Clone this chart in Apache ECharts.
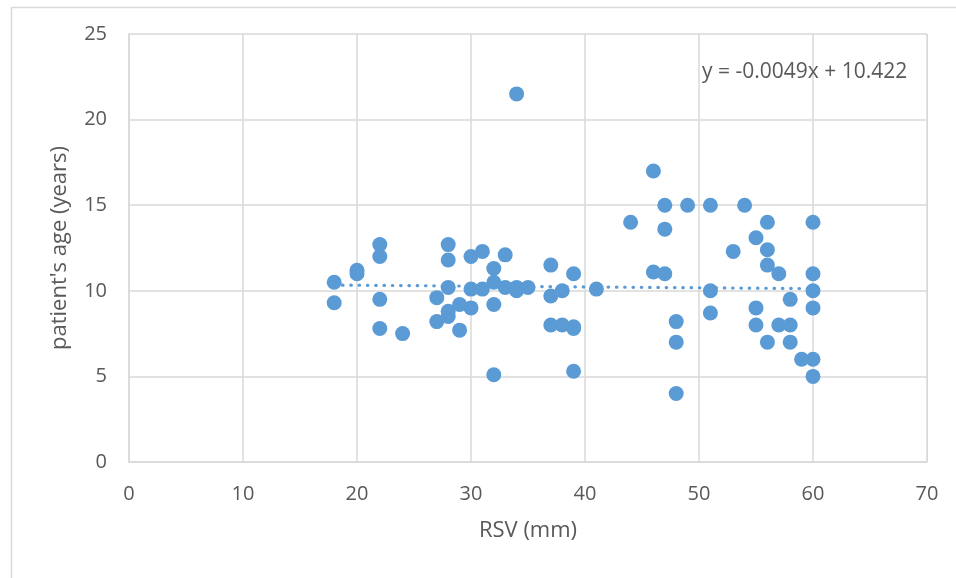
<!DOCTYPE html>
<html>
<head>
<meta charset="utf-8">
<script src="https://cdn.jsdelivr.net/npm/echarts@6/dist/echarts.min.js"></script>
<style>
html,body{margin:0;padding:0;background:#fff;}
#chart{width:956px;height:578px;}
</style>
</head>
<body>
<div id="chart"></div>
<script>
// RSV (mm) values
const rsv = [18,18,20,20,22,22,22,22,24,
  27,27,28,28,28,28,28,29,29,
  30,30,30,31,31,32,32,32,32,
  33,33,34,34,34,35,37,37,37,
  38,38,39,39,39,39,41,44,46,46,
  47,47,47,48,48,48,49,51,51,51,
  53,54,55,55,55,56,56,56,56,57,57,
  58,58,58,59,60,60,60,60,60,60];
// patient's age (years)
const age = [10.5,9.3,11.2,11.0,12.7,12.0,9.5,7.8,7.5,
  9.6,8.2,12.7,11.8,10.2,8.8,8.5,9.2,7.7,
  12.0,10.1,9.0,12.3,10.1,11.3,10.5,9.2,5.1,
  12.1,10.2,21.5,10.0,10.2,10.2,11.5,9.7,8.0,
  10.0,8.0,11.0,7.9,7.8,5.3,10.1,14.0,17.0,11.1,
  15.0,13.6,11.0,8.2,7.0,4.0,15.0,15.0,10.0,8.7,
  12.3,15.0,13.1,9.0,8.0,14.0,12.4,11.5,7.0,11.0,8.0,
  9.5,8.0,7.0,6.0,14.0,11.0,10.0,9.0,6.0,5.0];
// trendline (from the chart's equation)
const trendSlope = -0.0049;
const trendIntercept = 10.422;
const trendRange = [18, 60];
const equationLabel = 'y = -0.0049x + 10.422';
const xTicks = [0,10,20,30,40,50,60,70];
const yTicks = [0,5,10,15,20,25];

const points = rsv.map((x, i) => [x, age[i]]);
const trend = trendRange.map(x => [x, trendSlope * x + trendIntercept]);

const FONT = '"Open Sans", sans-serif';
const TXT = '#595959';
const GRID = '#D9D9D9';

const chart = echarts.init(document.getElementById('chart'));
chart.setOption({
  animation: false,
  backgroundColor: '#fff',
  textStyle: { fontFamily: FONT },
  grid: { left: 129, right: 29, top: 34, bottom: 116 },
  xAxis: {
    type: 'value', min: xTicks[0], max: xTicks[xTicks.length-1], interval: 10,
    name: 'RSV (mm)', nameLocation: 'middle', nameGap: 58,
    nameTextStyle: { color: TXT, fontSize: 22, fontFamily: FONT },
    axisLine: { show: true, lineStyle: { color: GRID, width: 1.5 } },
    axisTick: { show: false },
    axisLabel: { color: TXT, fontSize: 20, margin: 22, fontFamily: FONT },
    splitLine: { show: true, lineStyle: { color: GRID, width: 1.5 } }
  },
  yAxis: {
    type: 'value', min: yTicks[0], max: yTicks[yTicks.length-1], interval: 5,
    name: "patient's age (years)", nameLocation: 'middle', nameGap: 58, nameRotate: 90,
    nameTextStyle: { color: TXT, fontSize: 22, fontFamily: FONT },
    axisLine: { show: true, lineStyle: { color: GRID, width: 1.5 } },
    axisTick: { show: false },
    axisLabel: { color: TXT, fontSize: 20, margin: 22, fontFamily: FONT },
    splitLine: { show: true, lineStyle: { color: GRID, width: 1.5 } }
  },
  graphic: [
    { type: 'rect', left: 9, top: 5, z: -10, silent: true,
      shape: { width: 1000, height: 1000 },
      style: { fill: 'none', stroke: GRID, lineWidth: 1.5 } },
    { type: 'text', left: 702, top: 62, z: 10,
      style: { text: equationLabel, fill: TXT, font: '21px ' + FONT } },
    { type: 'rect', left: 927, top: 34, z: 5, silent: true,
      shape: { width: 1, height: 428 }, style: { fill: GRID } }
  ],
  series: [
    {
      type: 'line', data: trend, symbol: 'none', z: 1, silent: true,
      lineStyle: { color: '#5B9BD5', width: 3.2, type: [0.5, 7.8], cap: 'round' }
    },
    {
      type: 'scatter', data: points, symbol: 'circle', symbolSize: 15, z: 2,
      itemStyle: { color: '#5B9BD5', opacity: 1 }
    }
  ]
});
</script>
</body>
</html>
